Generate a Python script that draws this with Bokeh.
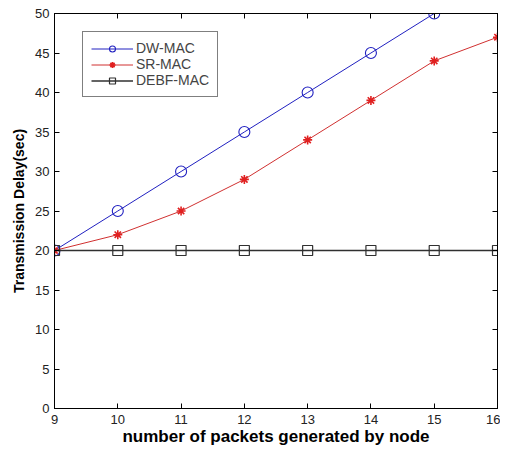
from bokeh.plotting import figure
from bokeh.models import Range1d, LinearAxis, FixedTicker, Legend, LegendItem, CustomJSTickFormatter
from bokeh.embed import file_html
from bokeh.resources import INLINE

packets = [9, 10, 11, 12, 13, 14, 15, 16]
dw_x = [9, 10, 11, 12, 13, 14, 15]
dw_mac = [20, 25, 30, 35, 40, 45, 50]
sr_mac = [20, 22, 25, 29, 34, 39, 44, 47]
debf_mac = [20, 20, 20, 20, 20, 20, 20, 20]
y_ticks = [0, 5, 10, 15, 20, 25, 30, 35, 40, 45, 50]

FONT = "Liberation Sans"

p = figure(width=500, height=448, output_backend="svg", toolbar_location=None,
           x_range=Range1d(9, 16), y_range=Range1d(0, 50),
           min_border_left=54, min_border_right=3, min_border_top=13, min_border_bottom=36)
p.xgrid.visible = False
p.ygrid.visible = False
p.outline_line_color = "black"
p.outline_line_width = 1
p.background_fill_color = "white"
p.border_fill_color = "white"

for ax in [p.xaxis[0], p.yaxis[0]]:
    ax.major_tick_in = 5
    ax.major_tick_out = 0
    ax.minor_tick_in = 0
    ax.minor_tick_out = 0
    ax.axis_line_color = "black"
    ax.major_tick_line_color = "black"
    ax.major_label_text_font = FONT
    ax.major_label_text_font_size = "13px"
    ax.major_label_text_color = "#222222"
    ax.axis_label_text_font = FONT
    ax.axis_label_text_font_style = "bold"
    ax.axis_label_text_color = "black"

p.xaxis[0].ticker = FixedTicker(ticks=packets)
p.yaxis[0].ticker = FixedTicker(ticks=y_ticks)
p.xaxis[0].axis_label = "number of packets generated by node"
p.yaxis[0].axis_label = "Transmission Delay(sec)"
p.xaxis[0].axis_label_text_font_size = "17px"
p.yaxis[0].axis_label_text_font_size = "14px"
p.xaxis[0].major_label_standoff = 6
p.xaxis[0].axis_label_standoff = 0
p.yaxis[0].major_label_standoff = 5
p.yaxis[0].axis_label_standoff = 5

right = LinearAxis(ticker=FixedTicker(ticks=y_ticks), formatter=CustomJSTickFormatter(code="return '';"),
                   major_tick_in=5, major_tick_out=0, minor_tick_in=0, minor_tick_out=0,
                   axis_line_color="black", major_label_standoff=0)
top = LinearAxis(ticker=FixedTicker(ticks=packets), formatter=CustomJSTickFormatter(code="return '';"),
                 major_tick_in=5, major_tick_out=0, minor_tick_in=0, minor_tick_out=0,
                 axis_line_color="black", major_label_standoff=0)
p.add_layout(right, "right")
p.add_layout(top, "above")

l1 = p.line(dw_x, dw_mac, line_color="#2020c0", line_width=1)
m1 = p.scatter(dw_x, dw_mac, marker="circle", size=11, line_color="#2020c0", fill_color=None, line_width=1.1)
l2 = p.line(packets, sr_mac, line_color="#d03030", line_width=1)
m2 = p.scatter(packets, sr_mac, marker="asterisk", size=9, line_color="#e02020", line_width=1.6)
l3 = p.line(packets, debf_mac, line_color="#303030", line_width=1.6)
m3 = p.scatter(packets, debf_mac, marker="square", size=10, line_color="#303030", fill_color=None, line_width=1.2)

legend = Legend(items=[
    LegendItem(label="DW-MAC", renderers=[l1, m1]),
    LegendItem(label="SR-MAC", renderers=[l2, m2]),
    LegendItem(label="DEBF-MAC", renderers=[l3, m3]),
], location=(28, 311))
legend.margin = 0
legend.padding = 8
legend.spacing = 0
legend.glyph_width = 42
legend.glyph_height = 15
legend.label_height = 15
legend.label_standoff = 3
legend.label_text_font = FONT
legend.label_text_font_size = "14px"
legend.border_line_color = "black"
legend.border_line_width = 1
legend.background_fill_alpha = 1
p.add_layout(legend, "center")

open("out.html", "w").write(file_html(p, INLINE))
